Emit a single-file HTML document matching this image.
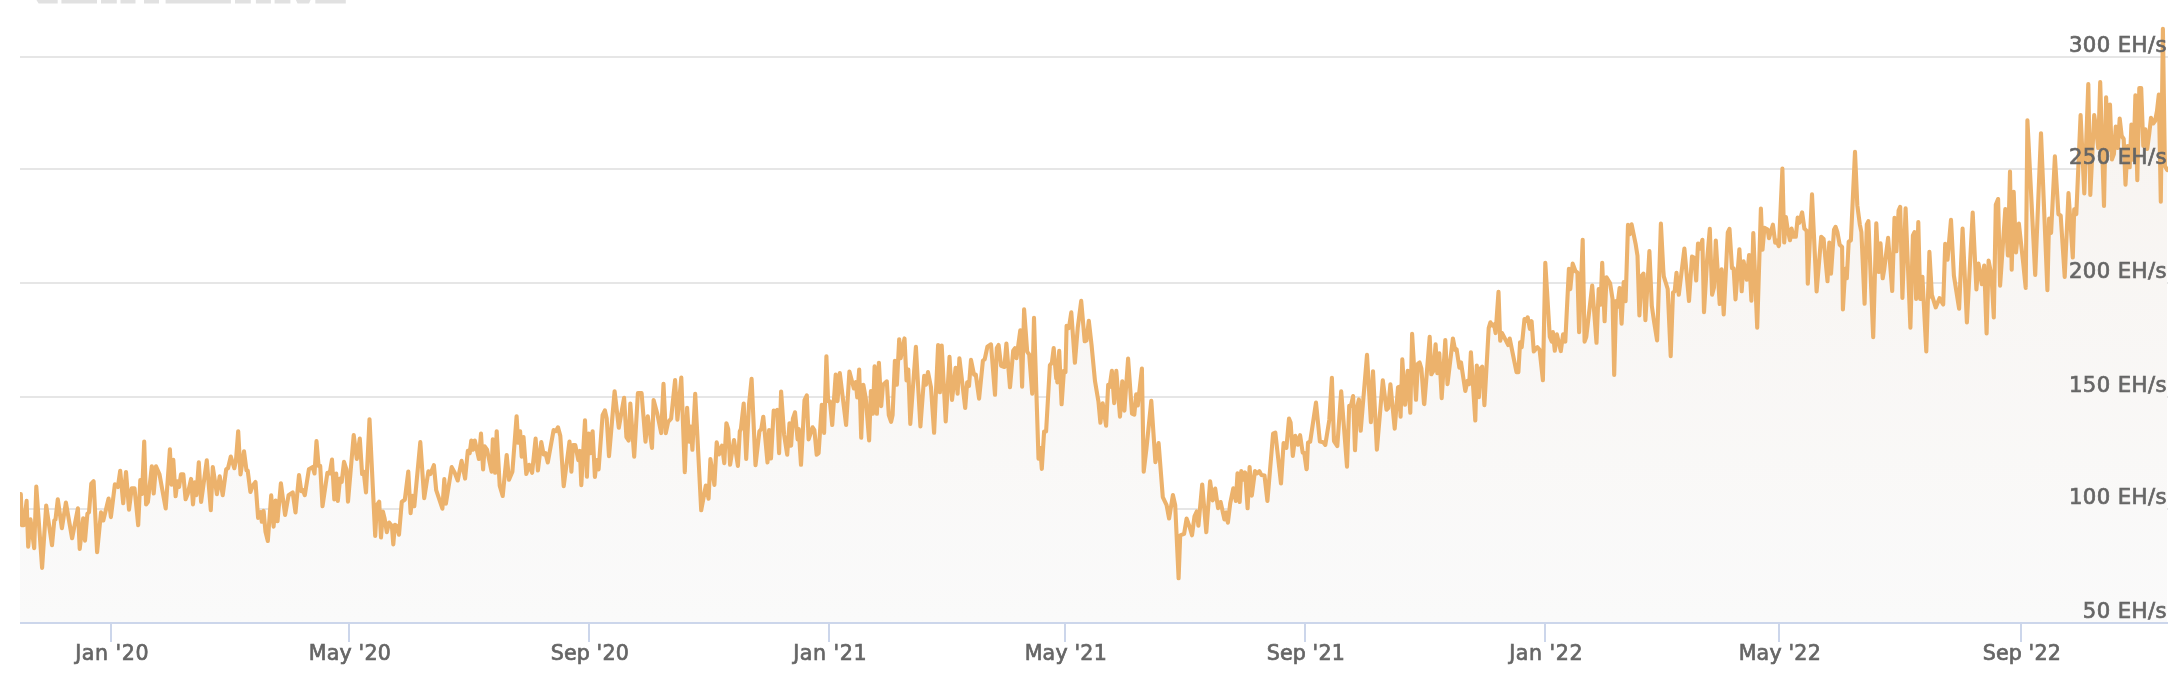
<!DOCTYPE html>
<html><head><meta charset="utf-8"><title>Hashrate</title>
<style>
html,body{margin:0;padding:0;background:#fff;}
body{width:2180px;height:692px;overflow:hidden;}
svg{display:block}
text{font-family:"DejaVu Sans","Liberation Sans",sans-serif;font-size:21.2px;fill:#666;stroke:#666;stroke-width:0.7px;letter-spacing:0.42px}
</style></head><body>
<svg width="2180" height="692" viewBox="0 0 2180 692">
<defs><linearGradient id="g" x1="0" y1="28" x2="0" y2="623" gradientUnits="userSpaceOnUse" >
<stop offset="0" stop-color="#f7f3ef"/><stop offset="1" stop-color="#fafafa"/></linearGradient></defs>
<clipPath id="c"><rect x="20" y="0" width="2148" height="624"/></clipPath>
<rect width="2180" height="692" fill="#fff"/>
<g fill="#e1e1e1"><rect x="61.4" y="-2" width="35.6" height="5.5"/><rect x="101.0" y="-2" width="15.8" height="5.5"/><rect x="120.5" y="-2" width="15.0" height="5.5"/><rect x="144.0" y="-2" width="15.0" height="5.5"/><rect x="165.6" y="-2" width="65.3" height="5.5"/><rect x="235.0" y="-2" width="15.8" height="5.5"/><rect x="255.9" y="-2" width="15.0" height="5.5"/><rect x="274.6" y="-2" width="15.8" height="5.5"/><rect x="315.3" y="-2" width="30.5" height="5.5"/><path d="M35.2 -2 L38.6 3.5 L57.7 3.5 L57.7 -2 Z"/><path d="M295 -2 L297.5 3.5 L309 3.5 L311.5 -2 Z"/></g>
<g stroke="#e6e6e6" stroke-width="2"><line x1="20" x2="2168.0" y1="57.0" y2="57.0"/><line x1="20" x2="2168.0" y1="169.0" y2="169.0"/><line x1="20" x2="2168.0" y1="283.0" y2="283.0"/><line x1="20" x2="2168.0" y1="397.0" y2="397.0"/><line x1="20" x2="2168.0" y1="509.0" y2="509.0"/></g>
<g clip-path="url(#c)"><path d="M20 623 L20 494.0 L20.8 494.0 L22.0 525.2 L23.8 525.2 L26.6 500.9 L28.2 546.6 L30.5 519.4 L34.2 548.3 L36.3 486.6 L42.1 567.9 L46.2 505.5 L52.0 545.3 L54.3 520.5 L55.5 519.4 L57.8 499.3 L61.9 528.2 L65.9 502.5 L72.1 538.3 L74.4 526.3 L77.9 508.3 L79.7 549.0 L83.2 518.2 L85.0 540.6 L87.4 513.6 L89.0 512.4 L91.3 483.6 L93.6 481.2 L97.1 552.2 L101.0 512.4 L103.3 520.5 L108.6 498.6 L110.9 517.1 L114.9 484.2 L117.9 487.0 L120.2 470.8 L123.2 503.2 L126.0 472.0 L129.0 509.7 L131.7 488.2 L134.5 488.2 L138.2 525.2 L140.3 480.1 L142.1 494.0 L144.2 441.5 L146.1 504.4 L147.9 502.0 L151.8 466.2 L153.7 493.5 L156.0 466.2 L159.5 474.3 L165.7 508.5 L169.9 449.4 L171.5 484.7 L173.3 459.8 L175.6 496.3 L177.5 481.2 L179.1 487.0 L181.0 474.3 L183.3 474.3 L185.6 499.3 L187.7 494.0 L191.1 478.9 L193.0 504.4 L194.8 482.4 L196.4 495.1 L198.8 462.3 L201.1 502.0 L206.8 460.4 L210.8 510.1 L212.8 467.0 L216.9 494.3 L219.7 476.3 L222.7 495.2 L226.2 469.3 L228.0 468.2 L230.8 456.6 L234.3 468.2 L235.9 461.2 L238.2 431.2 L240.5 474.4 L244.0 451.3 L246.5 470.5 L247.7 470.5 L250.4 492.0 L252.8 485.5 L255.5 482.0 L258.1 517.9 L260.8 512.1 L261.8 521.8 L263.6 510.9 L265.5 531.7 L267.8 541.0 L271.2 495.4 L273.6 526.6 L275.6 500.5 L277.5 521.3 L280.9 483.2 L285.1 514.9 L288.6 495.2 L292.7 492.4 L295.5 512.5 L299.0 475.1 L301.3 491.3 L302.9 490.1 L304.8 495.2 L308.9 469.3 L312.8 467.0 L314.5 473.5 L316.5 441.1 L318.6 465.9 L320.2 465.9 L322.5 506.3 L327.4 472.8 L329.7 473.5 L332.0 459.6 L334.3 499.4 L336.2 473.5 L337.8 501.0 L340.1 478.6 L341.7 482.0 L344.0 461.9 L346.4 469.3 L348.0 501.7 L353.7 435.1 L356.8 458.9 L359.8 438.6 L362.1 474.0 L363.7 471.6 L366.0 492.4 L369.5 419.2 L375.2 535.9 L376.9 505.2 L379.2 501.7 L381.0 537.5 L382.9 511.6 L384.5 517.9 L386.8 532.2 L389.1 522.5 L391.9 526.0 L393.3 544.4 L394.9 524.8 L396.7 526.0 L399.0 534.7 L401.8 501.7 L404.8 499.8 L408.3 471.6 L410.6 513.2 L412.4 495.9 L414.3 506.3 L420.3 442.1 L424.2 498.2 L428.4 471.2 L430.4 474.0 L433.9 465.2 L436.2 490.2 L442.4 508.7 L444.3 479.1 L445.9 503.6 L451.7 467.1 L454.7 472.8 L457.7 480.5 L461.6 460.8 L465.1 478.6 L467.8 450.9 L469.7 453.2 L471.3 440.5 L473.2 449.7 L474.8 440.5 L478.9 459.0 L481.0 433.6 L483.1 469.4 L484.7 446.3 L487.0 449.7 L491.6 471.7 L492.8 439.3 L495.1 472.8 L496.7 431.2 L499.7 485.6 L502.7 496.0 L506.7 455.0 L509.0 479.8 L512.4 471.7 L516.6 416.2 L518.2 442.8 L520.1 431.2 L521.7 456.7 L523.5 437.0 L526.3 474.0 L529.1 464.8 L532.1 472.8 L535.6 438.6 L537.9 470.5 L541.3 442.1 L543.6 454.4 L545.5 453.2 L547.8 462.4 L553.6 430.1 L555.9 431.2 L558.0 427.3 L560.3 435.9 L563.7 486.2 L569.5 441.6 L571.4 471.7 L573.0 445.1 L575.3 445.1 L578.3 460.1 L579.9 450.9 L581.3 485.1 L585.0 420.2 L586.9 476.8 L588.7 433.6 L590.3 453.2 L592.6 431.2 L594.9 477.0 L596.8 460.1 L598.6 469.4 L602.6 415.1 L604.9 410.4 L606.7 418.5 L609.0 456.2 L614.6 391.3 L618.8 427.8 L624.1 397.7 L626.4 437.0 L628.7 440.5 L630.3 403.5 L634.2 456.7 L637.9 393.1 L641.6 393.1 L645.5 441.7 L647.8 416.2 L652.0 447.9 L653.6 400.1 L657.3 413.9 L661.2 433.1 L663.5 383.9 L665.8 433.1 L668.1 422.0 L671.1 418.6 L675.1 380.0 L677.4 419.7 L681.3 377.6 L684.8 472.2 L687.1 407.7 L689.2 441.7 L690.8 426.6 L692.4 449.8 L695.2 393.8 L701.2 510.3 L705.8 485.6 L708.6 498.7 L710.4 459.0 L714.4 484.9 L716.7 442.4 L719.0 454.4 L722.0 445.6 L724.3 463.2 L726.4 423.2 L728.2 429.0 L730.1 464.8 L734.0 440.0 L737.9 465.9 L739.8 431.3 L740.9 429.0 L743.7 403.5 L746.2 459.0 L749.0 404.7 L751.6 378.8 L755.5 465.2 L759.4 431.3 L761.3 429.0 L763.3 416.7 L767.5 462.5 L769.1 430.1 L771.0 458.5 L773.7 410.5 L775.6 411.6 L777.2 410.0 L779.1 453.2 L781.1 391.5 L784.1 434.7 L787.2 454.8 L789.5 423.2 L791.1 445.6 L792.9 418.6 L795.0 412.3 L797.6 439.4 L798.7 429.0 L801.0 464.8 L804.5 400.1 L806.8 395.4 L808.6 439.4 L812.6 427.3 L814.4 430.1 L816.7 454.8 L818.6 453.2 L821.8 404.7 L824.1 432.9 L826.4 356.2 L828.1 401.2 L829.9 401.2 L832.2 425.0 L835.7 374.6 L837.5 401.2 L839.8 373.0 L846.1 425.0 L849.4 371.6 L853.9 388.5 L855.9 382.2 L857.2 397.4 L859.2 369.5 L861.2 437.8 L863.3 384.7 L865.8 398.6 L869.1 440.4 L870.9 391.0 L872.9 413.8 L874.6 366.3 L876.9 413.8 L878.9 362.7 L881.2 406.2 L883.0 384.7 L886.8 381.4 L888.8 415.1 L891.1 421.9 L892.6 415.1 L894.9 360.7 L896.9 384.7 L899.2 339.2 L900.7 358.2 L904.5 338.4 L906.5 380.4 L908.3 369.5 L910.3 423.9 L915.9 346.8 L920.4 426.5 L924.2 375.9 L926.0 384.7 L928.0 372.1 L931.0 387.3 L934.1 432.8 L938.1 345.0 L939.9 392.3 L941.7 345.5 L945.7 421.4 L949.5 356.9 L952.0 399.9 L955.6 367.8 L957.6 393.6 L959.4 358.2 L965.2 408.0 L967.2 382.2 L969.0 386.0 L971.0 359.9 L974.0 374.6 L975.8 374.6 L979.1 398.6 L982.9 360.7 L984.7 359.4 L987.4 346.8 L991.0 344.3 L995.0 394.8 L996.8 348.1 L998.6 345.0 L1001.1 365.8 L1004.4 367.0 L1006.4 343.5 L1010.0 387.3 L1013.2 350.6 L1015.0 348.1 L1016.5 358.2 L1020.3 330.3 L1022.1 386.7 L1024.1 309.4 L1027.2 351.8 L1029.2 354.4 L1032.2 393.6 L1034.0 317.7 L1038.5 458.6 L1040.3 448.0 L1041.8 468.9 L1044.1 431.5 L1046.1 431.5 L1049.9 365.3 L1051.9 362.7 L1053.7 348.1 L1056.2 378.4 L1056.5 376.6 L1057.4 382.4 L1059.2 350.8 L1061.6 404.3 L1063.9 370.9 L1065.5 372.0 L1066.6 325.8 L1068.9 328.1 L1071.3 312.4 L1074.9 362.8 L1077.7 328.1 L1081.2 300.9 L1084.7 341.3 L1086.5 340.4 L1088.8 320.7 L1091.6 345.4 L1095.0 381.2 L1098.5 402.0 L1100.4 422.8 L1102.7 403.2 L1106.1 425.8 L1108.2 384.7 L1109.6 387.0 L1111.9 370.9 L1114.2 403.2 L1116.3 370.9 L1120.0 416.6 L1122.3 381.2 L1124.4 410.6 L1128.1 358.6 L1132.0 413.6 L1134.3 414.7 L1136.2 394.4 L1137.8 405.5 L1141.9 368.5 L1143.7 471.7 L1146.5 447.9 L1151.3 400.8 L1155.4 462.2 L1158.6 443.1 L1162.8 497.2 L1166.6 505.1 L1169.1 518.5 L1172.9 495.0 L1175.2 505.1 L1178.6 578.3 L1180.2 535.3 L1184.1 533.8 L1186.6 518.5 L1189.8 527.4 L1192.0 535.3 L1194.5 516.3 L1196.8 511.5 L1198.4 525.8 L1202.2 484.5 L1206.3 532.2 L1210.1 481.3 L1212.7 500.4 L1215.2 488.6 L1218.1 508.3 L1220.6 502.0 L1224.4 519.4 L1226.3 512.4 L1227.9 522.6 L1230.2 503.5 L1233.3 488.3 L1235.9 501.0 L1237.5 473.3 L1239.7 502.0 L1241.3 471.1 L1243.5 479.7 L1245.1 472.4 L1247.6 508.3 L1249.6 467.0 L1251.8 495.6 L1255.0 471.1 L1257.2 473.3 L1259.4 471.1 L1261.3 474.9 L1264.5 475.6 L1267.4 501.0 L1273.1 433.6 L1275.3 432.6 L1281.0 483.5 L1283.6 443.1 L1286.4 447.9 L1289.0 418.6 L1290.6 422.5 L1292.8 455.9 L1295.3 435.8 L1297.9 444.7 L1300.1 435.2 L1302.7 452.7 L1304.2 452.7 L1306.5 469.2 L1306.8 468.7 L1308.0 442.7 L1310.2 441.6 L1316.0 402.6 L1319.9 441.6 L1323.2 442.3 L1325.3 444.9 L1329.3 420.0 L1331.9 377.7 L1334.0 441.0 L1337.3 446.0 L1341.2 391.3 L1347.0 466.6 L1349.2 405.9 L1350.9 405.9 L1353.1 396.1 L1355.0 450.3 L1357.2 407.0 L1358.9 399.4 L1360.7 430.8 L1367.0 354.9 L1370.9 422.1 L1373.0 371.2 L1376.9 449.7 L1382.8 380.3 L1386.5 409.8 L1388.2 408.0 L1390.4 384.2 L1394.7 428.6 L1398.0 387.4 L1399.1 386.8 L1400.6 416.7 L1402.3 359.3 L1405.1 404.8 L1407.7 370.8 L1410.3 412.8 L1412.1 333.9 L1416.0 399.8 L1417.9 363.6 L1419.6 362.5 L1421.4 368.6 L1424.0 403.7 L1424.3 404.0 L1429.7 336.8 L1431.3 374.3 L1433.4 371.0 L1435.6 344.4 L1437.3 373.2 L1439.3 353.3 L1441.7 398.1 L1445.3 340.0 L1447.5 384.1 L1452.9 338.5 L1455.1 349.8 L1456.6 349.4 L1459.4 367.8 L1461.0 362.4 L1465.3 391.0 L1467.5 380.8 L1469.2 384.1 L1470.9 352.2 L1475.3 420.5 L1476.8 365.6 L1478.9 397.1 L1480.0 368.9 L1482.2 366.7 L1484.4 405.1 L1488.7 328.1 L1490.4 322.3 L1492.6 325.5 L1494.1 324.4 L1495.6 333.1 L1498.5 291.9 L1500.2 340.7 L1502.1 333.1 L1508.2 345.0 L1509.7 338.5 L1516.5 372.1 L1518.4 372.1 L1520.1 342.2 L1521.7 347.2 L1524.5 319.0 L1526.2 320.8 L1527.7 317.3 L1529.9 328.8 L1531.6 321.2 L1533.8 351.5 L1537.5 347.2 L1539.6 349.8 L1542.9 380.2 L1545.3 262.9 L1549.8 336.8 L1551.7 341.6 L1552.9 332.1 L1554.8 350.7 L1556.9 334.4 L1560.8 351.1 L1563.1 334.4 L1565.3 341.6 L1568.9 268.9 L1570.3 289.1 L1572.7 263.6 L1575.5 271.3 L1577.4 272.5 L1579.1 332.1 L1582.7 239.8 L1584.6 341.6 L1586.3 336.8 L1592.2 285.6 L1596.5 342.8 L1598.7 289.1 L1600.6 304.6 L1602.2 262.9 L1604.6 321.3 L1606.5 277.2 L1610.1 283.2 L1612.5 298.7 L1614.2 375.0 L1616.1 301.1 L1617.3 307.0 L1619.6 288.0 L1621.6 323.7 L1623.7 282.0 L1625.6 301.1 L1628.0 224.8 L1629.7 234.3 L1631.6 224.3 L1635.6 243.8 L1637.5 255.8 L1639.4 315.4 L1641.6 276.0 L1643.5 273.6 L1645.4 320.1 L1649.4 251.0 L1651.8 305.8 L1654.2 322.5 L1657.1 340.4 L1660.9 223.6 L1663.3 270.1 L1663.8 276.3 L1667.7 289.0 L1670.7 356.1 L1673.0 292.5 L1674.7 291.3 L1676.5 272.8 L1678.8 294.8 L1684.4 248.6 L1689.0 301.0 L1692.0 256.6 L1694.3 257.8 L1696.2 280.5 L1698.0 243.5 L1700.1 248.6 L1702.4 239.8 L1704.0 312.1 L1707.0 261.3 L1709.8 228.9 L1712.1 294.8 L1714.0 287.4 L1715.8 240.5 L1719.7 304.0 L1721.6 269.4 L1723.7 314.5 L1727.8 232.4 L1729.5 228.9 L1732.0 268.2 L1733.6 268.2 L1735.5 299.4 L1739.4 249.2 L1741.7 291.3 L1743.6 261.3 L1746.8 279.8 L1749.1 255.0 L1751.4 300.6 L1753.3 233.1 L1757.2 327.6 L1760.9 208.6 L1762.5 249.7 L1764.4 227.7 L1767.6 229.6 L1769.0 238.2 L1772.9 224.7 L1775.2 242.8 L1776.8 240.5 L1778.7 246.2 L1779.0 245.3 L1782.4 168.5 L1784.2 242.5 L1785.9 217.1 L1787.7 229.8 L1790.0 240.2 L1791.6 228.6 L1793.5 236.7 L1795.8 236.7 L1797.7 217.5 L1799.3 222.8 L1802.1 212.4 L1804.4 228.6 L1806.7 230.9 L1807.8 283.6 L1812.0 194.4 L1816.6 291.5 L1821.2 236.7 L1823.6 239.0 L1827.5 281.3 L1829.3 242.5 L1831.0 273.7 L1834.0 229.8 L1835.6 226.8 L1837.4 232.1 L1839.7 244.8 L1842.1 247.1 L1842.9 309.5 L1845.2 268.8 L1846.8 278.3 L1848.7 241.7 L1850.9 240.2 L1855.0 151.8 L1857.3 205.2 L1859.8 224.3 L1861.4 232.2 L1864.6 303.8 L1866.8 224.3 L1868.4 221.1 L1873.2 337.1 L1876.3 223.3 L1878.6 272.0 L1880.5 243.3 L1882.7 278.3 L1884.3 268.8 L1888.1 237.9 L1892.2 291.0 L1894.5 217.9 L1896.4 251.3 L1898.6 210.6 L1900.2 206.8 L1902.4 298.0 L1905.6 208.4 L1910.4 327.6 L1912.9 235.4 L1914.5 232.2 L1916.1 299.0 L1918.3 222.0 L1920.2 299.0 L1922.4 276.7 L1926.3 351.4 L1929.4 251.9 L1932.0 297.4 L1932.2 295.8 L1935.7 307.4 L1939.5 298.2 L1943.2 304.5 L1945.2 243.8 L1947.5 259.7 L1951.0 219.8 L1953.9 275.6 L1959.1 308.8 L1962.6 228.5 L1966.9 322.4 L1972.7 212.6 L1976.4 289.5 L1978.5 263.5 L1981.9 284.3 L1984.2 265.5 L1986.6 333.4 L1988.6 260.6 L1991.5 275.6 L1993.8 317.5 L1995.8 204.8 L1998.1 199.0 L2000.1 285.7 L2005.3 209.1 L2007.9 255.4 L2010.0 171.6 L2011.7 269.8 L2013.7 191.8 L2016.0 252.5 L2018.9 223.6 L2023.3 264.0 L2025.7 287.9 L2027.4 120.2 L2035.2 274.9 L2041.0 133.2 L2047.4 290.2 L2049.1 218.5 L2051.1 232.9 L2054.9 156.4 L2058.4 214.2 L2060.7 215.6 L2064.7 276.9 L2068.5 193.1 L2072.8 257.5 L2074.2 209.2 L2076.3 214.2 L2080.6 115.0 L2084.3 193.5 L2088.3 84.0 L2090.3 195.0 L2094.2 115.0 L2096.2 129.0 L2098.2 148.0 L2100.2 82.0 L2102.2 150.0 L2104.0 206.0 L2106.1 97.4 L2108.0 150.0 L2110.0 104.6 L2111.9 159.5 L2113.9 154.0 L2115.8 126.6 L2117.8 148.0 L2119.7 118.5 L2121.7 136.0 L2123.7 139.0 L2125.5 184.6 L2127.6 146.0 L2129.7 167.3 L2131.4 124.6 L2133.5 160.0 L2135.4 95.4 L2137.3 180.3 L2139.3 88.0 L2141.2 88.0 L2143.3 146.0 L2145.3 129.3 L2147.2 149.0 L2149.2 134.0 L2151.0 117.8 L2153.2 123.5 L2155.1 121.0 L2157.0 111.0 L2158.8 94.6 L2160.8 201.8 L2162.9 28.7 L2164.9 166.0 L2167.2 170.0 L2167 170.0 L2167 623 Z" fill="url(#g)"/>
<path d="M20.8 494.0 L22.0 525.2 L23.8 525.2 L26.6 500.9 L28.2 546.6 L30.5 519.4 L34.2 548.3 L36.3 486.6 L42.1 567.9 L46.2 505.5 L52.0 545.3 L54.3 520.5 L55.5 519.4 L57.8 499.3 L61.9 528.2 L65.9 502.5 L72.1 538.3 L74.4 526.3 L77.9 508.3 L79.7 549.0 L83.2 518.2 L85.0 540.6 L87.4 513.6 L89.0 512.4 L91.3 483.6 L93.6 481.2 L97.1 552.2 L101.0 512.4 L103.3 520.5 L108.6 498.6 L110.9 517.1 L114.9 484.2 L117.9 487.0 L120.2 470.8 L123.2 503.2 L126.0 472.0 L129.0 509.7 L131.7 488.2 L134.5 488.2 L138.2 525.2 L140.3 480.1 L142.1 494.0 L144.2 441.5 L146.1 504.4 L147.9 502.0 L151.8 466.2 L153.7 493.5 L156.0 466.2 L159.5 474.3 L165.7 508.5 L169.9 449.4 L171.5 484.7 L173.3 459.8 L175.6 496.3 L177.5 481.2 L179.1 487.0 L181.0 474.3 L183.3 474.3 L185.6 499.3 L187.7 494.0 L191.1 478.9 L193.0 504.4 L194.8 482.4 L196.4 495.1 L198.8 462.3 L201.1 502.0 L206.8 460.4 L210.8 510.1 L212.8 467.0 L216.9 494.3 L219.7 476.3 L222.7 495.2 L226.2 469.3 L228.0 468.2 L230.8 456.6 L234.3 468.2 L235.9 461.2 L238.2 431.2 L240.5 474.4 L244.0 451.3 L246.5 470.5 L247.7 470.5 L250.4 492.0 L252.8 485.5 L255.5 482.0 L258.1 517.9 L260.8 512.1 L261.8 521.8 L263.6 510.9 L265.5 531.7 L267.8 541.0 L271.2 495.4 L273.6 526.6 L275.6 500.5 L277.5 521.3 L280.9 483.2 L285.1 514.9 L288.6 495.2 L292.7 492.4 L295.5 512.5 L299.0 475.1 L301.3 491.3 L302.9 490.1 L304.8 495.2 L308.9 469.3 L312.8 467.0 L314.5 473.5 L316.5 441.1 L318.6 465.9 L320.2 465.9 L322.5 506.3 L327.4 472.8 L329.7 473.5 L332.0 459.6 L334.3 499.4 L336.2 473.5 L337.8 501.0 L340.1 478.6 L341.7 482.0 L344.0 461.9 L346.4 469.3 L348.0 501.7 L353.7 435.1 L356.8 458.9 L359.8 438.6 L362.1 474.0 L363.7 471.6 L366.0 492.4 L369.5 419.2 L375.2 535.9 L376.9 505.2 L379.2 501.7 L381.0 537.5 L382.9 511.6 L384.5 517.9 L386.8 532.2 L389.1 522.5 L391.9 526.0 L393.3 544.4 L394.9 524.8 L396.7 526.0 L399.0 534.7 L401.8 501.7 L404.8 499.8 L408.3 471.6 L410.6 513.2 L412.4 495.9 L414.3 506.3 L420.3 442.1 L424.2 498.2 L428.4 471.2 L430.4 474.0 L433.9 465.2 L436.2 490.2 L442.4 508.7 L444.3 479.1 L445.9 503.6 L451.7 467.1 L454.7 472.8 L457.7 480.5 L461.6 460.8 L465.1 478.6 L467.8 450.9 L469.7 453.2 L471.3 440.5 L473.2 449.7 L474.8 440.5 L478.9 459.0 L481.0 433.6 L483.1 469.4 L484.7 446.3 L487.0 449.7 L491.6 471.7 L492.8 439.3 L495.1 472.8 L496.7 431.2 L499.7 485.6 L502.7 496.0 L506.7 455.0 L509.0 479.8 L512.4 471.7 L516.6 416.2 L518.2 442.8 L520.1 431.2 L521.7 456.7 L523.5 437.0 L526.3 474.0 L529.1 464.8 L532.1 472.8 L535.6 438.6 L537.9 470.5 L541.3 442.1 L543.6 454.4 L545.5 453.2 L547.8 462.4 L553.6 430.1 L555.9 431.2 L558.0 427.3 L560.3 435.9 L563.7 486.2 L569.5 441.6 L571.4 471.7 L573.0 445.1 L575.3 445.1 L578.3 460.1 L579.9 450.9 L581.3 485.1 L585.0 420.2 L586.9 476.8 L588.7 433.6 L590.3 453.2 L592.6 431.2 L594.9 477.0 L596.8 460.1 L598.6 469.4 L602.6 415.1 L604.9 410.4 L606.7 418.5 L609.0 456.2 L614.6 391.3 L618.8 427.8 L624.1 397.7 L626.4 437.0 L628.7 440.5 L630.3 403.5 L634.2 456.7 L637.9 393.1 L641.6 393.1 L645.5 441.7 L647.8 416.2 L652.0 447.9 L653.6 400.1 L657.3 413.9 L661.2 433.1 L663.5 383.9 L665.8 433.1 L668.1 422.0 L671.1 418.6 L675.1 380.0 L677.4 419.7 L681.3 377.6 L684.8 472.2 L687.1 407.7 L689.2 441.7 L690.8 426.6 L692.4 449.8 L695.2 393.8 L701.2 510.3 L705.8 485.6 L708.6 498.7 L710.4 459.0 L714.4 484.9 L716.7 442.4 L719.0 454.4 L722.0 445.6 L724.3 463.2 L726.4 423.2 L728.2 429.0 L730.1 464.8 L734.0 440.0 L737.9 465.9 L739.8 431.3 L740.9 429.0 L743.7 403.5 L746.2 459.0 L749.0 404.7 L751.6 378.8 L755.5 465.2 L759.4 431.3 L761.3 429.0 L763.3 416.7 L767.5 462.5 L769.1 430.1 L771.0 458.5 L773.7 410.5 L775.6 411.6 L777.2 410.0 L779.1 453.2 L781.1 391.5 L784.1 434.7 L787.2 454.8 L789.5 423.2 L791.1 445.6 L792.9 418.6 L795.0 412.3 L797.6 439.4 L798.7 429.0 L801.0 464.8 L804.5 400.1 L806.8 395.4 L808.6 439.4 L812.6 427.3 L814.4 430.1 L816.7 454.8 L818.6 453.2 L821.8 404.7 L824.1 432.9 L826.4 356.2 L828.1 401.2 L829.9 401.2 L832.2 425.0 L835.7 374.6 L837.5 401.2 L839.8 373.0 L846.1 425.0 L849.4 371.6 L853.9 388.5 L855.9 382.2 L857.2 397.4 L859.2 369.5 L861.2 437.8 L863.3 384.7 L865.8 398.6 L869.1 440.4 L870.9 391.0 L872.9 413.8 L874.6 366.3 L876.9 413.8 L878.9 362.7 L881.2 406.2 L883.0 384.7 L886.8 381.4 L888.8 415.1 L891.1 421.9 L892.6 415.1 L894.9 360.7 L896.9 384.7 L899.2 339.2 L900.7 358.2 L904.5 338.4 L906.5 380.4 L908.3 369.5 L910.3 423.9 L915.9 346.8 L920.4 426.5 L924.2 375.9 L926.0 384.7 L928.0 372.1 L931.0 387.3 L934.1 432.8 L938.1 345.0 L939.9 392.3 L941.7 345.5 L945.7 421.4 L949.5 356.9 L952.0 399.9 L955.6 367.8 L957.6 393.6 L959.4 358.2 L965.2 408.0 L967.2 382.2 L969.0 386.0 L971.0 359.9 L974.0 374.6 L975.8 374.6 L979.1 398.6 L982.9 360.7 L984.7 359.4 L987.4 346.8 L991.0 344.3 L995.0 394.8 L996.8 348.1 L998.6 345.0 L1001.1 365.8 L1004.4 367.0 L1006.4 343.5 L1010.0 387.3 L1013.2 350.6 L1015.0 348.1 L1016.5 358.2 L1020.3 330.3 L1022.1 386.7 L1024.1 309.4 L1027.2 351.8 L1029.2 354.4 L1032.2 393.6 L1034.0 317.7 L1038.5 458.6 L1040.3 448.0 L1041.8 468.9 L1044.1 431.5 L1046.1 431.5 L1049.9 365.3 L1051.9 362.7 L1053.7 348.1 L1056.2 378.4 L1056.5 376.6 L1057.4 382.4 L1059.2 350.8 L1061.6 404.3 L1063.9 370.9 L1065.5 372.0 L1066.6 325.8 L1068.9 328.1 L1071.3 312.4 L1074.9 362.8 L1077.7 328.1 L1081.2 300.9 L1084.7 341.3 L1086.5 340.4 L1088.8 320.7 L1091.6 345.4 L1095.0 381.2 L1098.5 402.0 L1100.4 422.8 L1102.7 403.2 L1106.1 425.8 L1108.2 384.7 L1109.6 387.0 L1111.9 370.9 L1114.2 403.2 L1116.3 370.9 L1120.0 416.6 L1122.3 381.2 L1124.4 410.6 L1128.1 358.6 L1132.0 413.6 L1134.3 414.7 L1136.2 394.4 L1137.8 405.5 L1141.9 368.5 L1143.7 471.7 L1146.5 447.9 L1151.3 400.8 L1155.4 462.2 L1158.6 443.1 L1162.8 497.2 L1166.6 505.1 L1169.1 518.5 L1172.9 495.0 L1175.2 505.1 L1178.6 578.3 L1180.2 535.3 L1184.1 533.8 L1186.6 518.5 L1189.8 527.4 L1192.0 535.3 L1194.5 516.3 L1196.8 511.5 L1198.4 525.8 L1202.2 484.5 L1206.3 532.2 L1210.1 481.3 L1212.7 500.4 L1215.2 488.6 L1218.1 508.3 L1220.6 502.0 L1224.4 519.4 L1226.3 512.4 L1227.9 522.6 L1230.2 503.5 L1233.3 488.3 L1235.9 501.0 L1237.5 473.3 L1239.7 502.0 L1241.3 471.1 L1243.5 479.7 L1245.1 472.4 L1247.6 508.3 L1249.6 467.0 L1251.8 495.6 L1255.0 471.1 L1257.2 473.3 L1259.4 471.1 L1261.3 474.9 L1264.5 475.6 L1267.4 501.0 L1273.1 433.6 L1275.3 432.6 L1281.0 483.5 L1283.6 443.1 L1286.4 447.9 L1289.0 418.6 L1290.6 422.5 L1292.8 455.9 L1295.3 435.8 L1297.9 444.7 L1300.1 435.2 L1302.7 452.7 L1304.2 452.7 L1306.5 469.2 L1306.8 468.7 L1308.0 442.7 L1310.2 441.6 L1316.0 402.6 L1319.9 441.6 L1323.2 442.3 L1325.3 444.9 L1329.3 420.0 L1331.9 377.7 L1334.0 441.0 L1337.3 446.0 L1341.2 391.3 L1347.0 466.6 L1349.2 405.9 L1350.9 405.9 L1353.1 396.1 L1355.0 450.3 L1357.2 407.0 L1358.9 399.4 L1360.7 430.8 L1367.0 354.9 L1370.9 422.1 L1373.0 371.2 L1376.9 449.7 L1382.8 380.3 L1386.5 409.8 L1388.2 408.0 L1390.4 384.2 L1394.7 428.6 L1398.0 387.4 L1399.1 386.8 L1400.6 416.7 L1402.3 359.3 L1405.1 404.8 L1407.7 370.8 L1410.3 412.8 L1412.1 333.9 L1416.0 399.8 L1417.9 363.6 L1419.6 362.5 L1421.4 368.6 L1424.0 403.7 L1424.3 404.0 L1429.7 336.8 L1431.3 374.3 L1433.4 371.0 L1435.6 344.4 L1437.3 373.2 L1439.3 353.3 L1441.7 398.1 L1445.3 340.0 L1447.5 384.1 L1452.9 338.5 L1455.1 349.8 L1456.6 349.4 L1459.4 367.8 L1461.0 362.4 L1465.3 391.0 L1467.5 380.8 L1469.2 384.1 L1470.9 352.2 L1475.3 420.5 L1476.8 365.6 L1478.9 397.1 L1480.0 368.9 L1482.2 366.7 L1484.4 405.1 L1488.7 328.1 L1490.4 322.3 L1492.6 325.5 L1494.1 324.4 L1495.6 333.1 L1498.5 291.9 L1500.2 340.7 L1502.1 333.1 L1508.2 345.0 L1509.7 338.5 L1516.5 372.1 L1518.4 372.1 L1520.1 342.2 L1521.7 347.2 L1524.5 319.0 L1526.2 320.8 L1527.7 317.3 L1529.9 328.8 L1531.6 321.2 L1533.8 351.5 L1537.5 347.2 L1539.6 349.8 L1542.9 380.2 L1545.3 262.9 L1549.8 336.8 L1551.7 341.6 L1552.9 332.1 L1554.8 350.7 L1556.9 334.4 L1560.8 351.1 L1563.1 334.4 L1565.3 341.6 L1568.9 268.9 L1570.3 289.1 L1572.7 263.6 L1575.5 271.3 L1577.4 272.5 L1579.1 332.1 L1582.7 239.8 L1584.6 341.6 L1586.3 336.8 L1592.2 285.6 L1596.5 342.8 L1598.7 289.1 L1600.6 304.6 L1602.2 262.9 L1604.6 321.3 L1606.5 277.2 L1610.1 283.2 L1612.5 298.7 L1614.2 375.0 L1616.1 301.1 L1617.3 307.0 L1619.6 288.0 L1621.6 323.7 L1623.7 282.0 L1625.6 301.1 L1628.0 224.8 L1629.7 234.3 L1631.6 224.3 L1635.6 243.8 L1637.5 255.8 L1639.4 315.4 L1641.6 276.0 L1643.5 273.6 L1645.4 320.1 L1649.4 251.0 L1651.8 305.8 L1654.2 322.5 L1657.1 340.4 L1660.9 223.6 L1663.3 270.1 L1663.8 276.3 L1667.7 289.0 L1670.7 356.1 L1673.0 292.5 L1674.7 291.3 L1676.5 272.8 L1678.8 294.8 L1684.4 248.6 L1689.0 301.0 L1692.0 256.6 L1694.3 257.8 L1696.2 280.5 L1698.0 243.5 L1700.1 248.6 L1702.4 239.8 L1704.0 312.1 L1707.0 261.3 L1709.8 228.9 L1712.1 294.8 L1714.0 287.4 L1715.8 240.5 L1719.7 304.0 L1721.6 269.4 L1723.7 314.5 L1727.8 232.4 L1729.5 228.9 L1732.0 268.2 L1733.6 268.2 L1735.5 299.4 L1739.4 249.2 L1741.7 291.3 L1743.6 261.3 L1746.8 279.8 L1749.1 255.0 L1751.4 300.6 L1753.3 233.1 L1757.2 327.6 L1760.9 208.6 L1762.5 249.7 L1764.4 227.7 L1767.6 229.6 L1769.0 238.2 L1772.9 224.7 L1775.2 242.8 L1776.8 240.5 L1778.7 246.2 L1779.0 245.3 L1782.4 168.5 L1784.2 242.5 L1785.9 217.1 L1787.7 229.8 L1790.0 240.2 L1791.6 228.6 L1793.5 236.7 L1795.8 236.7 L1797.7 217.5 L1799.3 222.8 L1802.1 212.4 L1804.4 228.6 L1806.7 230.9 L1807.8 283.6 L1812.0 194.4 L1816.6 291.5 L1821.2 236.7 L1823.6 239.0 L1827.5 281.3 L1829.3 242.5 L1831.0 273.7 L1834.0 229.8 L1835.6 226.8 L1837.4 232.1 L1839.7 244.8 L1842.1 247.1 L1842.9 309.5 L1845.2 268.8 L1846.8 278.3 L1848.7 241.7 L1850.9 240.2 L1855.0 151.8 L1857.3 205.2 L1859.8 224.3 L1861.4 232.2 L1864.6 303.8 L1866.8 224.3 L1868.4 221.1 L1873.2 337.1 L1876.3 223.3 L1878.6 272.0 L1880.5 243.3 L1882.7 278.3 L1884.3 268.8 L1888.1 237.9 L1892.2 291.0 L1894.5 217.9 L1896.4 251.3 L1898.6 210.6 L1900.2 206.8 L1902.4 298.0 L1905.6 208.4 L1910.4 327.6 L1912.9 235.4 L1914.5 232.2 L1916.1 299.0 L1918.3 222.0 L1920.2 299.0 L1922.4 276.7 L1926.3 351.4 L1929.4 251.9 L1932.0 297.4 L1932.2 295.8 L1935.7 307.4 L1939.5 298.2 L1943.2 304.5 L1945.2 243.8 L1947.5 259.7 L1951.0 219.8 L1953.9 275.6 L1959.1 308.8 L1962.6 228.5 L1966.9 322.4 L1972.7 212.6 L1976.4 289.5 L1978.5 263.5 L1981.9 284.3 L1984.2 265.5 L1986.6 333.4 L1988.6 260.6 L1991.5 275.6 L1993.8 317.5 L1995.8 204.8 L1998.1 199.0 L2000.1 285.7 L2005.3 209.1 L2007.9 255.4 L2010.0 171.6 L2011.7 269.8 L2013.7 191.8 L2016.0 252.5 L2018.9 223.6 L2023.3 264.0 L2025.7 287.9 L2027.4 120.2 L2035.2 274.9 L2041.0 133.2 L2047.4 290.2 L2049.1 218.5 L2051.1 232.9 L2054.9 156.4 L2058.4 214.2 L2060.7 215.6 L2064.7 276.9 L2068.5 193.1 L2072.8 257.5 L2074.2 209.2 L2076.3 214.2 L2080.6 115.0 L2084.3 193.5 L2088.3 84.0 L2090.3 195.0 L2094.2 115.0 L2096.2 129.0 L2098.2 148.0 L2100.2 82.0 L2102.2 150.0 L2104.0 206.0 L2106.1 97.4 L2108.0 150.0 L2110.0 104.6 L2111.9 159.5 L2113.9 154.0 L2115.8 126.6 L2117.8 148.0 L2119.7 118.5 L2121.7 136.0 L2123.7 139.0 L2125.5 184.6 L2127.6 146.0 L2129.7 167.3 L2131.4 124.6 L2133.5 160.0 L2135.4 95.4 L2137.3 180.3 L2139.3 88.0 L2141.2 88.0 L2143.3 146.0 L2145.3 129.3 L2147.2 149.0 L2149.2 134.0 L2151.0 117.8 L2153.2 123.5 L2155.1 121.0 L2157.0 111.0 L2158.8 94.6 L2160.8 201.8 L2162.9 28.7 L2164.9 166.0 L2167.2 170.0" fill="none" stroke="#ecb26c" stroke-width="4.1" stroke-linejoin="round" stroke-linecap="round"/></g>
<g stroke="#ccd6eb" stroke-width="2"><line x1="20" x2="2168.0" y1="623" y2="623"/><line x1="111" x2="111" y1="623" y2="642"/><line x1="349" x2="349" y1="623" y2="642"/><line x1="589" x2="589" y1="623" y2="642"/><line x1="829" x2="829" y1="623" y2="642"/><line x1="1065" x2="1065" y1="623" y2="642"/><line x1="1305" x2="1305" y1="623" y2="642"/><line x1="1545" x2="1545" y1="623" y2="642"/><line x1="1779" x2="1779" y1="623" y2="642"/><line x1="2021" x2="2021" y1="623" y2="642"/></g>
</svg>
<svg width="2180" height="692" viewBox="0 0 2180 692" style="position:absolute;left:0;top:0;will-change:transform;opacity:0.999">
<g text-anchor="end"><text x="2167" y="52.0">300 EH/s</text><text x="2167" y="164.0">250 EH/s</text><text x="2167" y="278.0">200 EH/s</text><text x="2167" y="392.0">150 EH/s</text><text x="2167" y="504.0">100 EH/s</text><text x="2167" y="618.0">50 EH/s</text></g>
<g text-anchor="middle"><text x="112.1" y="659.8" style="font-size:20.6px;letter-spacing:0.53px">Jan '20</text><text x="349.9" y="659.8" style="font-size:20.6px;letter-spacing:0.18px">May '20</text><text x="589.8" y="659.8" style="font-size:20.6px;letter-spacing:0.15px">Sep '20</text><text x="830.1" y="659.8" style="font-size:20.6px;letter-spacing:0.53px">Jan '21</text><text x="1065.8" y="659.8" style="font-size:20.6px;letter-spacing:0.18px">May '21</text><text x="1305.8" y="659.8" style="font-size:20.6px;letter-spacing:0.15px">Sep '21</text><text x="1546.1" y="659.8" style="font-size:20.6px;letter-spacing:0.53px">Jan '22</text><text x="1779.8" y="659.8" style="font-size:20.6px;letter-spacing:0.18px">May '22</text><text x="2021.8" y="659.8" style="font-size:20.6px;letter-spacing:0.15px">Sep '22</text></g>
</svg></body></html>
